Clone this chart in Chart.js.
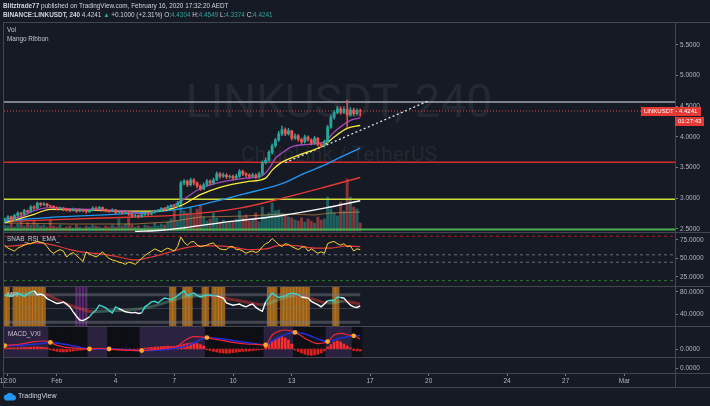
<!DOCTYPE html>
<html>
<head>
<meta charset="utf-8">
<title>LINKUSDT 240</title>
<script src="https://cdn.jsdelivr.net/npm/chart.js@4.4.1/dist/chart.umd.min.js"></script>
<style>
  html, body { margin: 0; padding: 0; background: #161a25; }
  #page { position: relative; width: 710px; height: 406px; overflow: hidden; font-family: "Liberation Sans", Arial, sans-serif; }
  #chart { position: absolute; left: 0; top: 0; }
  .txt { position: absolute; white-space: nowrap; color: #d1d4dc; font-size: 6.4px; line-height: 8px; }
  .lbl { position: absolute; white-space: nowrap; color: #c3c6ce; font-size: 6.4px; line-height: 8px; }
  .mark { position: absolute; left: 3px; width: 672px; text-align: center; color: rgba(255,255,255,0.07); font-family: Roboto, sans-serif; white-space: nowrap; }
  .up { color: #26a69a; }
</style>
</head>
<body>
<div id="page">
  <div class="mark" style="top:76px;font-size:46px;line-height:50px;">LINKUSDT, 240</div>
  <div class="mark" style="top:142px;font-size:21px;line-height:24px;">ChainLink / TetherUS</div>
  <canvas id="chart" width="710" height="406"></canvas>
  <div class="txt" style="left:3px;top:2px;"><b>Blitztrade77</b> published on TradingView.com, February 16, 2020 17:32:20 AEDT</div>
  <div class="txt" style="left:3px;top:11px;"><b>BINANCE:LINKUSDT, 240</b> 4.4241 <span class="up">&#9650;</span> +0.1000 (+2.31%) O:<span class="up">4.4304</span> H:<span class="up">4.4549</span> L:<span class="up">4.3374</span> C:<span class="up">4.4241</span></div>
  <div class="lbl" style="left:7px;top:26px;">Vol</div>
  <div class="lbl" style="left:7px;top:35px;">Mango Ribbon</div>
  <div class="lbl" style="left:7px;top:235px;">SNAB_RSI_EMA_</div>
  <div class="lbl" style="left:7px;top:291px;">MFI</div>
  <div class="lbl" style="left:8px;top:330px;">MACD_VXI</div>
  <svg style="position:absolute;left:3px;top:392px" width="14" height="9"><path d="M3 8.5 A3 3 0 0 1 3.5 2.6 A4 4 0 0 1 10.5 3 A2.8 2.8 0 0 1 11 8.5 Z" fill="#2196f3"/></svg>
  <div class="txt" style="left:18px;top:392px;font-size:7px;">TradingView</div>
</div>
<script>
// 4h candles, index 0 = Jan 29 08:00
var firstOpen = 2.62;
var closes = [
  2.66, 2.70, 2.64, 2.72, 2.76, 2.74, 2.80, 2.78, 2.86, 2.84,
  2.92, 2.90, 2.91, 2.88, 2.87, 2.85, 2.83, 2.84, 2.82, 2.81,
  2.80, 2.82, 2.79, 2.81, 2.80, 2.78, 2.80, 2.84, 2.83, 2.85,
  2.82, 2.80, 2.79, 2.81, 2.77, 2.78, 2.76, 2.77, 2.74, 2.71,
  2.72, 2.70, 2.73, 2.75, 2.74, 2.77, 2.79, 2.80, 2.83, 2.82,
  2.86, 2.88, 2.87, 2.92, 3.25, 3.28, 3.22, 3.30, 3.25, 3.20,
  3.15, 3.22, 3.28, 3.25, 3.30, 3.40, 3.36, 3.38, 3.35, 3.36,
  3.33, 3.36, 3.44, 3.40, 3.38, 3.36, 3.38, 3.35, 3.40, 3.58,
  3.62, 3.75, 3.86, 3.95, 4.05, 4.12, 4.05, 4.10, 3.98, 4.02,
  3.96, 3.92, 4.00, 3.95, 3.90, 3.98, 3.88, 3.86, 3.92, 4.16,
  4.32, 4.40, 4.46, 4.40, 4.45, 4.36, 4.44, 4.38, 4.43, 4.4241
];
var highs = [
  2.68, 2.72, 2.71, 2.74, 2.78, 2.77, 2.82, 2.81, 2.88, 2.88,
  2.94, 2.93, 2.93, 2.92, 2.89, 2.88, 2.86, 2.86, 2.85, 2.84,
  2.83, 2.84, 2.83, 2.83, 2.82, 2.81, 2.82, 2.86, 2.86, 2.87,
  2.86, 2.83, 2.81, 2.83, 2.82, 2.80, 2.79, 2.79, 2.78, 2.75,
  2.74, 2.73, 2.75, 2.77, 2.77, 2.79, 2.81, 2.82, 2.85, 2.85,
  2.88, 2.90, 2.90, 2.95, 3.28, 3.31, 3.30, 3.33, 3.32, 3.27,
  3.22, 3.25, 3.31, 3.30, 3.33, 3.43, 3.42, 3.41, 3.40, 3.38,
  3.38, 3.39, 3.47, 3.46, 3.42, 3.40, 3.41, 3.40, 3.43, 3.61,
  3.66, 3.78, 3.89, 3.98, 4.09, 4.18, 4.15, 4.14, 4.11, 4.05,
  4.04, 3.98, 4.03, 4.02, 3.97, 4.01, 3.99, 3.90, 3.95, 4.19,
  4.36, 4.43, 4.50, 4.49, 4.49, 4.60, 4.48, 4.47, 4.46, 4.4549
];
var lows = [
  2.60, 2.64, 2.62, 2.63, 2.70, 2.71, 2.72, 2.76, 2.77, 2.82,
  2.83, 2.87, 2.88, 2.86, 2.85, 2.83, 2.81, 2.82, 2.80, 2.79,
  2.78, 2.79, 2.77, 2.78, 2.78, 2.76, 2.77, 2.79, 2.81, 2.82,
  2.80, 2.78, 2.77, 2.78, 2.75, 2.76, 2.74, 2.75, 2.72, 2.69,
  2.69, 2.68, 2.69, 2.72, 2.72, 2.73, 2.76, 2.78, 2.79, 2.80,
  2.81, 2.85, 2.85, 2.86, 2.90, 3.22, 3.19, 3.20, 3.22, 3.17,
  3.13, 3.14, 3.20, 3.22, 3.23, 3.29, 3.33, 3.34, 3.32, 3.33,
  3.30, 3.31, 3.34, 3.37, 3.35, 3.33, 3.34, 3.32, 3.33, 3.38,
  3.56, 3.60, 3.72, 3.83, 3.93, 4.02, 4.02, 4.03, 3.95, 3.96,
  3.93, 3.89, 3.90, 3.93, 3.87, 3.88, 3.85, 3.83, 3.84, 3.90,
  4.14, 4.29, 4.38, 4.37, 4.38, 4.15, 4.34, 4.35, 4.36, 4.3374
];
var volumes = [
  6, 5, 9, 4, 7, 13, 5, 8, 6, 10, 7, 5, 6, 4,
  12, 5, 4, 6, 3, 4, 5, 3, 6, 4, 3, 5,
  4, 6, 5, 4, 3, 5, 4, 6, 4, 12, 5, 7,
  13, 6, 4, 5, 3, 6, 5, 4, 8, 5, 7, 6, 9,
  12, 22, 10, 28, 20, 18, 24, 16, 22, 26,
  14, 10, 12, 18, 13, 9, 11, 8, 10, 9, 12, 20,
  14, 16, 10, 12, 18, 9,
  24, 16, 18, 28, 20, 21, 17, 15, 14, 13,
  11, 10, 13, 9, 12, 10, 8, 14, 11, 12,
  34, 22, 18, 15, 29, 20, 52, 34, 24, 22, 8
];
var volMa = [[0, 8], [20, 7], [40, 7], [50, 9], [60, 14], [74, 15], [85, 17], [95, 16], [100, 18], [109, 19]];

// Mango Ribbon, [candle, price]
var maPurple = [[0, 2.66], [5, 2.70], [9, 2.80], [14, 2.85], [19, 2.83], [26, 2.82], [37, 2.79], [42, 2.75], [48, 2.82], [53, 2.92], [60, 3.16], [66, 3.26], [74, 3.33], [79, 3.37], [81, 3.48], [83, 3.65], [85, 3.74], [88, 3.84], [93, 3.88], [98, 3.92], [101, 4.08], [106, 4.27], [109, 4.31]];
var maYellow = [[0, 2.60], [9, 2.74], [14, 2.82], [26, 2.81], [37, 2.79], [46, 2.79], [54, 2.88], [60, 3.06], [66, 3.18], [74, 3.27], [80, 3.33], [82, 3.46], [85, 3.59], [90, 3.70], [98, 3.87], [101, 4.00], [105, 4.14], [109, 4.19]];
var maBlue = [[0, 2.63], [14, 2.69], [37, 2.75], [54, 2.83], [74, 3.08], [85, 3.24], [92, 3.41], [98, 3.54], [103, 3.67], [109, 3.82]];
var maRed = [[0, 2.62], [30, 2.68], [54, 2.73], [72, 2.84], [85, 3.00], [98, 3.18], [109, 3.34]];
var maWhite = [[40, 2.46], [48, 2.48], [55, 2.52], [66, 2.60], [74, 2.65], [85, 2.72], [98, 2.84], [109, 2.96]];

var priceLevels = [4.57, 3.59, 2.985, 2.49];
var trendLine = [[86, 3.58], [130, 4.59]];

var rsi = [
  68, 64, 62, 60, 64, 66, 68, 70, 70, 72,
  73, 72, 71, 66, 60, 57, 60, 62, 60, 52,
  56, 58, 54, 50, 46, 59, 56, 54, 52, 55,
  59, 54, 50, 48, 47, 45, 44, 42, 45, 44,
  42, 46, 50, 54, 57, 60, 63, 61, 59, 62,
  64, 62, 60, 66, 79, 72, 68, 72, 73, 68,
  66, 67, 68, 70, 71, 66, 63, 62, 62, 66,
  66, 62, 62, 60, 57, 59, 60, 58, 60, 66,
  70, 72, 77, 73, 69, 66, 70, 69, 66, 64,
  62, 65, 66, 60, 63, 60, 57, 59, 57, 70,
  72, 73, 70, 68, 70, 66, 67, 60, 63, 62
];
var rsiEma = [[0, 66], [5, 68], [10, 71], [15, 68], [20, 62], [25, 58], [30, 56], [35, 52], [40, 48], [45, 52], [50, 58], [55, 64], [60, 67], [65, 67], [70, 65], [75, 62], [80, 63], [85, 68], [90, 67], [95, 64], [100, 64], [105, 67], [109, 66]];
var rsiLevels = [80, 55, 45, 20];

var mfi = [
  74, 73, 72, 75, 78, 75, 72, 76, 80, 82,
  75, 76, 74, 68, 65, 62, 59, 60, 62, 58,
  53, 44, 36, 29, 28, 31, 35, 42, 47, 56,
  54, 51, 46, 42, 53, 50, 47, 44, 43, 42,
  43, 41, 42, 53, 57, 62, 63, 60, 65, 69,
  68, 66, 70, 73, 78, 82, 73, 76, 78, 74,
  71, 73, 75, 74, 73, 73, 71, 69, 60, 58,
  56, 57, 58, 55, 53, 56, 58, 52, 48, 45,
  62, 70, 78, 74, 70, 72, 73, 76, 78, 77,
  75, 71, 70, 69, 63, 60, 57, 53, 58, 64,
  65, 64, 71, 70, 69, 62, 56, 53, 52, 55
];
var mfiSignal = [[0, 75], [6, 76], [12, 76], [16, 66], [22, 52], [27, 44], [32, 46], [38, 47], [44, 52], [50, 62], [56, 72], [62, 73], [68, 68], [74, 62], [79, 57], [84, 66], [89, 73], [94, 68], [99, 60], [104, 63], [109, 58]];
var mfiWhite = [[10, 26], [36, 42], [66, 80], [92, 99], [104, 109]];
var mfiHot = [0, 1, 3, 4, 5, 6, 7, 8, 9, 10, 11, 12, 51, 52, 55, 56, 57, 61, 62, 64, 65, 66, 67, 81, 82, 83, 85, 86, 87, 88, 89, 90, 91, 92, 93, 101, 102];
var mfiCold = [22, 23, 24, 25];
var mfiBands = [75, 50, 25];

var macdLine = [[0, 0.017], [5, 0.025], [9, 0.037], [12, 0.040], [14, 0.033], [16, 0.018], [19, 0.008], [22, 0.004], [26, 0.000], [29, 0.003], [32, 0.000], [36, -0.004], [42, -0.008], [46, -0.002], [50, 0.006], [53, 0.015], [55, 0.040], [58, 0.062], [62, 0.057], [64, 0.050], [67, 0.042], [70, 0.033], [74, 0.025], [77, 0.023], [80, 0.020], [82, 0.070], [84, 0.088], [86, 0.095], [89, 0.083], [91, 0.065], [93, 0.045], [96, 0.027], [99, 0.037], [101, 0.070], [103, 0.078], [106, 0.068], [107, 0.066], [109, 0.050]];
var macdSignal = [[0, 0.017], [5, 0.018], [9, 0.024], [12, 0.029], [14, 0.033], [16, 0.030], [19, 0.022], [22, 0.012], [26, 0.000], [29, 0.001], [32, 0.000], [36, -0.002], [42, -0.008], [46, -0.006], [50, -0.002], [53, 0.006], [55, 0.012], [58, 0.030], [62, 0.057], [64, 0.055], [67, 0.050], [70, 0.043], [74, 0.033], [77, 0.026], [80, 0.020], [82, 0.040], [84, 0.058], [86, 0.072], [89, 0.083], [91, 0.080], [93, 0.070], [96, 0.050], [99, 0.037], [101, 0.045], [103, 0.055], [106, 0.064], [107, 0.066], [109, 0.067]];
var macdHist = [
  0.004, 0.005, 0.006, 0.005, 0.006, 0.007, 0.008, 0.008, 0.009, 0.010, 0.010, 0.009, 0.008, 0.006,
  -0.004, -0.008, -0.012, -0.014, -0.015, -0.014, -0.012, -0.010, -0.008, -0.006, -0.005, -0.003,
  0.002, 0.003, 0.003, 0.004, 0.003, 0.002,
  -0.002, -0.004, -0.005, -0.006, -0.007, -0.008, -0.007, -0.006, -0.005, -0.003,
  0.003, 0.005, 0.006, 0.008, 0.010, 0.011, 0.012, 0.013, 0.014, 0.013, 0.012, 0.015, 0.020, 0.025, 0.028, 0.030, 0.032, 0.028, 0.022, 0.015,
  -0.004, -0.008, -0.012, -0.015, -0.018, -0.020, -0.021, -0.020, -0.018, -0.016, -0.014, -0.012, -0.011, -0.010, -0.008, -0.006, -0.004, -0.002,
  0.010, 0.025, 0.040, 0.050, 0.058, 0.062, 0.055, 0.045, 0.025,
  -0.005, -0.012, -0.020, -0.026, -0.030, -0.032, -0.030, -0.026, -0.020, -0.010,
  0.010, 0.022, 0.035, 0.040, 0.035, 0.025, 0.015, 0.006,
  -0.008, -0.010, -0.010
];
var macdCross = [0, 14, 26, 32, 42, 62, 80, 89, 99, 107];
var macdBull = [[0, 13], [26, 31], [42, 61], [80, 88], [99, 106]];

var tickIdx = [1, 16, 34, 52, 70, 88, 112, 130, 154, 172, 190];
var tickText = ['12:00', 'Feb', '4', '7', '10', '13', '17', '20', '24', '27', 'Mar'];
var priceTicks = [2.5, 3, 3.5, 4, 4.5, 5, 5.5];
var rsiTicks = [25, 50, 75];
var mfiTicks = [40, 80];
var zeroTicks = [0];

var xMin = -0.21, xMax = 205.5;
var lastClose = closes[closes.length - 1];

var opens = closes.map(function (c, i) { return i === 0 ? firstOpen : closes[i - 1]; });
var idx = closes.map(function (c, i) { return i; });
var upCol = '#26a69a', dnCol = '#ef5350';

function pts(pairs) {
    return pairs.map(function (p) { return { x: p[0], y: p[1] }; });
}
function inRanges(ranges, i) {
    return ranges.some(function (r) { return i >= r[0] && i <= r[1]; });
}
function lookup(pairs, i) {
    var hit = pairs.filter(function (p) { return p[0] === i; })[0];
    return hit ? hit[1] : null;
}
function flat(v, a, b) {
    return [{ x: a, y: v }, { x: b, y: v }];
}
function line(axis, data, color, width, order, extra) {
    var ds = {
        type: 'line', yAxisID: axis, data: data, borderColor: color, borderWidth: width,
        pointRadius: 0, fill: false, order: order, tension: 0
    };
    return Object.assign(ds, extra || {});
}
function bars(axis, data, color, thick, order) {
    return {
        type: 'bar', yAxisID: axis, data: data, backgroundColor: color, borderWidth: 0,
        barThickness: thick, grouped: false, order: order
    };
}
function paneAxis(min, max, ticks, stackWeight, weight) {
    return {
        type: 'linear', position: 'right', stack: 'panes', stackWeight: stackWeight, weight: weight,
        min: min, max: max,
        afterBuildTicks: function (s) { s.ticks = ticks.map(function (v) { return { value: v }; }); },
        afterFit: function (s) { s.width = 35; },
        ticks: { color: '#b2b5be', font: { size: 6.5 }, padding: 2, callback: function (v) { return Number(v).toFixed(4); } },
        grid: { drawOnChartArea: false, tickLength: 3, tickColor: '#787b86' },
        border: { color: '#5d606b' }
    };
}

var datasets = [];

// main pane
datasets.push(bars('yv', idx.map(function (i) { return { x: i, y: volumes[i] }; }),
    idx.map(function (i) { return closes[i] >= opens[i] ? 'rgba(38,166,154,0.5)' : 'rgba(239,83,80,0.5)'; }), 2.3, 95));
datasets.push(line('yv', pts(volMa), 'rgba(230,150,70,0.6)', 1, 94));
var levelColors = ['#a3a6af', '#d32f2f', '#cddc39', '#4caf50'];
var levelWidths = [1.5, 1.5, 1.5, 2];
priceLevels.forEach(function (v, k) {
    datasets.push(line('yp', flat(v, xMin, xMax), levelColors[k], levelWidths[k], 88));
});
datasets.push(line('yp', flat(lastClose, xMin, xMax), 'rgba(239,83,80,0.9)', 1, 87, { borderDash: [1, 2] }));
datasets.push(line('yp', pts(trendLine), '#e0e3eb', 1.3, 86, { borderDash: [2, 2.5] }));
var smooth = { cubicInterpolationMode: 'monotone' };
datasets.push(line('yp', pts(maWhite), '#ffffff', 1.4, 70, smooth));
datasets.push(line('yp', pts(maRed), '#e53935', 1.4, 69, smooth));
datasets.push(line('yp', pts(maBlue), '#2196f3', 1.4, 68, smooth));
datasets.push(line('yp', pts(maYellow), '#ffeb3b', 1.3, 67, smooth));
datasets.push(line('yp', pts(maPurple), '#ab47bc', 1.3, 66, smooth));
var candleCols = idx.map(function (i) { return closes[i] >= opens[i] ? upCol : dnCol; });
datasets.push(bars('yp', idx.map(function (i) { return { x: i, y: [lows[i], highs[i]] }; }), candleCols, 0.8, 61));
datasets.push(bars('yp', idx.map(function (i) { return { x: i, y: [opens[i], closes[i]] }; }), candleCols, 2.2, 60));

// RSI pane
var rsiLevelColors = ['rgba(183,28,28,0.9)', '#6b6e78', '#6b6e78', '#2e7d32'];
rsiLevels.forEach(function (v, k) {
    datasets.push(line('yr', flat(v, xMin, xMax), rsiLevelColors[k], 1, 95, { borderDash: [3, 3] }));
});
datasets.push(line('yr', pts(rsiEma), '#e53935', 1.2, 85, smooth));
datasets.push(line('yr', idx.map(function (i) { return { x: i, y: rsi[i] }; }), '#fdd835', 1, 80));

// MFI pane
datasets.push(bars('ym', mfiHot.map(function (i) { return { x: i, y: [18.2, 90.9] }; }), 'rgba(236,145,25,0.6)', 3.35, 100));
datasets.push(bars('ym', mfiCold.map(function (i) { return { x: i, y: [18.2, 90.9] }; }), 'rgba(142,46,170,0.6)', 1.6, 100));
mfiBands.forEach(function (v) {
    datasets.push(line('ym', flat(v, 0, closes.length - 1), v === 50 ? 'rgba(120,123,134,0.35)' : 'rgba(120,123,134,0.45)', v === 50 ? 1 : 3, 96));
});
datasets.push(line('ym', pts(mfiSignal), 'rgba(229,57,53,0.4)', 3, 90, {
    cubicInterpolationMode: 'monotone',
    segment: { borderColor: function (c) { return c.p1.parsed.y < c.p0.parsed.y ? 'rgba(229,57,53,0.45)' : 'rgba(120,200,150,0.35)'; } }
}));
datasets.push(line('ym', idx.map(function (i) { return { x: i, y: mfi[i] }; }), '#3fd3d0', 1.4, 80, {
    segment: { borderColor: function (c) { return inRanges(mfiWhite, c.p1DataIndex) ? '#ffffff' : '#3fd3d0'; } }
}));

// MACD pane
datasets.push(bars('yd', idx.map(function (i) { return { x: i, y: [-0.04, 0.115] }; }),
    idx.map(function (i) { return inRanges(macdBull, i) ? '#2b2240' : '#0e0f14'; }), 3.35, 100));
datasets.push(line('yd', flat(0, 0, closes.length - 1), 'rgba(229,57,53,0.8)', 1, 75, { borderDash: [2, 2] }));
datasets.push(bars('yd', idx.map(function (i) { return { x: i, y: macdHist[i] }; }),
    idx.map(function (i) { return macdHist[i] >= 0 ? '#ff2b2b' : '#e01f1f'; }), 2, 74));
datasets.push(line('yd', pts(macdSignal), '#1f2fd8', 1.5, 72, smooth));
datasets.push(line('yd', pts(macdLine), '#f0243a', 1.2, 71, smooth));
datasets.push(line('yd', macdCross.map(function (i) { return { x: i, y: lookup(macdLine, i) }; }), '#ff9800', 0, 70, {
    showLine: false, pointRadius: 2.4, pointBackgroundColor: '#ffa726', pointBorderWidth: 0
}));

var frame = {
    id: 'frame',
    afterDraw: function (chart) {
        var ctx = chart.ctx, a = chart.chartArea, s = chart.scales;
        ctx.save();
        ctx.strokeStyle = '#434651';
        ctx.lineWidth = 1;
        ctx.beginPath();
        [a.top, s.yr.top, s.ym.top, s.yd.top, s.ye.top, a.bottom, a.bottom + 14].forEach(function (y) {
            var yy = Math.round(y) + 0.5;
            ctx.moveTo(3, yy);
            ctx.lineTo(710, yy);
        });
        ctx.moveTo(3.5, a.top);
        ctx.lineTo(3.5, a.bottom + 14);
        ctx.moveTo(Math.round(a.right) + 0.5, a.top);
        ctx.lineTo(Math.round(a.right) + 0.5, a.bottom + 14);
        ctx.stroke();

        // last price tag
        var y = Math.round(s.yp.getPixelForValue(lastClose));
        ctx.fillStyle = '#e53935';
        ctx.fillRect(a.right - 34, y - 4, 60, 9);
        ctx.fillRect(a.right, y + 6, 29, 9);
        ctx.fillStyle = '#ffffff';
        ctx.font = '6px "Liberation Sans", Arial, sans-serif';
        ctx.textBaseline = 'middle';
        ctx.fillText('LINKUSDT - ' + lastClose.toFixed(4), a.right - 31, y + 0.5);
        ctx.fillText('01:27:43', a.right + 3, y + 10.5);
        ctx.restore();
    }
};

Chart.defaults.font.family = '"Liberation Sans", Arial, sans-serif';

new Chart(document.getElementById('chart'), {
    type: 'line',
    data: { datasets: datasets },
    options: {
        responsive: false,
        animation: false,
        devicePixelRatio: 1,
        events: [],
        layout: { padding: { top: 22, left: 3, right: 0, bottom: 18 } },
        plugins: { legend: { display: false }, tooltip: { enabled: false } },
        scales: {
            x: {
                type: 'linear', position: 'bottom', min: xMin, max: xMax, offset: false,
                afterBuildTicks: function (s) { s.ticks = tickIdx.map(function (v) { return { value: v }; }); },
                afterFit: function (s) { s.height = 15; s.paddingLeft = 0; s.paddingRight = 0; },
                ticks: {
                    color: '#b2b5be', font: { size: 6.5 }, padding: 1, maxRotation: 0, autoSkip: false,
                    callback: function (v, i) { return tickText[i]; }
                },
                grid: { drawOnChartArea: false, offset: false, tickLength: 3, tickColor: '#787b86' },
                border: { color: '#434651' }
            },
            yp: paneAxis(2.451, 5.875, priceTicks, 210, 1),
            yr: paneAxis(12.8, 85.8, rsiTicks, 54, 2),
            ym: paneAxis(18.2, 90.9, mfiTicks, 40, 3),
            yd: paneAxis(-0.04, 0.115, zeroTicks, 31, 4),
            ye: paneAxis(-5, 11, zeroTicks, 16, 5),
            yv: { type: 'linear', position: 'left', display: false, stack: 'vol', stackWeight: 210, weight: 2, min: -1, max: 209 },
            yf: { type: 'linear', position: 'left', display: false, stack: 'vol', stackWeight: 141, weight: 1, min: 0, max: 1 }
        }
    },
    plugins: [frame]
});
</script>
</body>
</html>
